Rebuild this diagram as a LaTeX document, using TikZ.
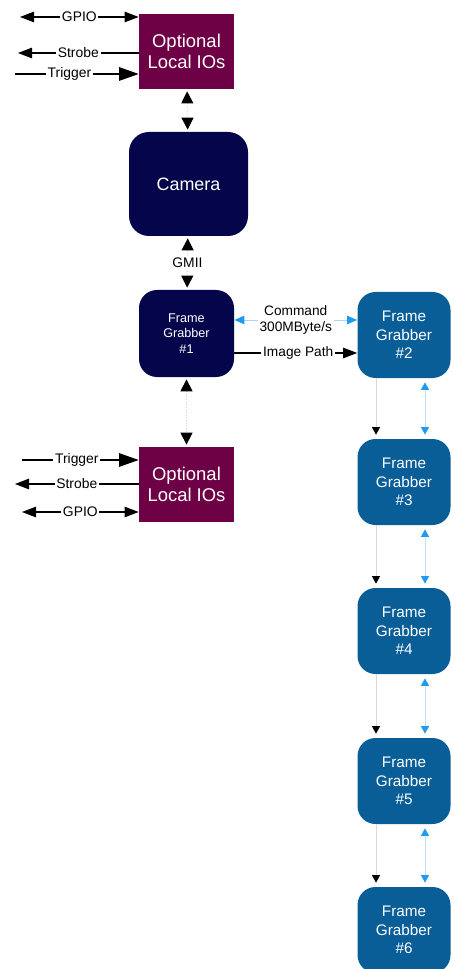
\documentclass[tikz,border=0pt]{standalone}
\usepackage{fontspec}
\setmainfont{Liberation Sans}
\usetikzlibrary{arrows.meta,positioning}
\definecolor{iomaroon}{HTML}{6E0046}
\definecolor{camnavy}{HTML}{05054B}
\definecolor{fgblue}{HTML}{0A5E98}
\definecolor{cmdblue}{HTML}{1E9BEF}
\tikzset{
  iobox/.style={rectangle, fill=iomaroon, text=white, minimum width=1.9cm, minimum height=1.5cm, align=center, font=\fontsize{10.5}{12}\selectfont},
  cambox/.style={rectangle, rounded corners=0.4cm, fill=camnavy, text=white, minimum width=2.38cm, minimum height=2.08cm, font=\fontsize{10.2}{12}\selectfont},
  fgone/.style={rectangle, rounded corners=0.36cm, fill=camnavy, text=white, minimum width=1.9cm, minimum height=1.74cm, align=center, font=\fontsize{7.2}{9}\selectfont},
  fgbox/.style={rectangle, rounded corners=0.36cm, fill=fgblue, text=white, minimum width=1.86cm, minimum height=1.72cm, align=center, font=\fontsize{8.7}{10.4}\selectfont},
  lbl/.style={fill=white, inner sep=1pt, font=\fontsize{7.9}{9}\selectfont},
  midlbl/.style={fill=white, inner sep=1pt, align=center, font=\fontsize{7.8}{9.2}\selectfont},
  io/.style={draw=black, line width=0.6pt, >={Triangle[length=2.8mm,width=2.1mm]}},
  trig/.style={io, >={Triangle[length=3.9mm,width=2.7mm]}},
  link/.style={draw=gray!35, densely dotted, line width=0.5pt, >={Triangle[length=2.4mm,width=2.4mm,color=black]}, shorten <=0.04cm, shorten >=0.04cm},
  cmd/.style={draw=cmdblue!40, line width=0.5pt, >={Triangle[length=2mm,width=1.7mm,color=cmdblue]}},
  chain/.style={draw=gray!30, line width=0.5pt, ->, >={Triangle[length=1.5mm,width=1.6mm,color=black]}, shorten >=0.08cm},
  bluechain/.style={draw=cmdblue!30, line width=0.5pt, <->, >={Triangle[length=1.5mm,width=1.6mm,color=cmdblue]}, shorten <=0.08cm, shorten >=0.08cm}
}
\begin{document}
\begin{tikzpicture}
  \useasboundingbox (0,0) rectangle (9.06,-19.38);
  % Nodes
  \node[iobox] (iotop) at (3.73,-1.03) {Optional\\Local IOs};
  \node[cambox] (cam) at (3.77,-3.68) {Camera};
  \node[fgone] (fg1) at (3.73,-6.67) {Frame\\Grabber\\\#1};
  \node[iobox] (iobot) at (3.73,-9.69) {Optional\\Local IOs};
  \node[fgbox] (fg2) at (8.08,-6.70) {Frame\\Grabber\\\#2};
  \foreach \i/\y in {3/-9.64, 4/-12.62, 5/-15.62, 6/-18.60}
    \node[fgbox] (fg\i) at (8.08,\y) {Frame\\Grabber\\\#\i};

  % Free ends of the local IO lines
  \coordinate (gpioA) at (0.40,-0.34);
  \coordinate (strobeA) at (0.36,-1.06);
  \coordinate (trigA) at (0.30,-1.48);
  \coordinate (trigB) at (0.44,-9.20);
  \coordinate (strobeB) at (0.30,-9.68);
  \coordinate (gpioB) at (0.44,-10.24);

  % Local IOs
  \draw[io,<->] (gpioA) -- (gpioA -| iotop.west) node[lbl,midway] {GPIO};
  \draw[io,->] (strobeA -| iotop.west) -- (strobeA) node[lbl,midway] {Strobe};
  \draw[trig,->] (trigA) -- (trigA -| iotop.west) node[lbl,pos=0.44] {Trigger};
  \draw[trig,->] (trigB) -- (trigB -| iobot.west) node[lbl,pos=0.47] {Trigger};
  \draw[io,->] (strobeB -| iobot.west) -- (strobeB) node[lbl,midway] {Strobe};
  \draw[io,<->] (gpioB) -- (gpioB -| iobot.west) node[lbl,midway] {GPIO};

  % Edges
  \draw[link,<->] (iotop) -- (cam);
  \draw[link,<->] (cam) -- (fg1) node[lbl,midway] {GMII};
  \draw[link,<->] (fg1) -- (iobot);
  \draw[cmd,<->] ([yshift=0.27cm]fg1.east) -- ([yshift=0.27cm]fg1.east -| fg2.west)
    node[midlbl,midway] {Command\\300MByte/s};
  \draw[io,->] ([yshift=-0.39cm]fg1.east) -- ([yshift=-0.39cm]fg1.east -| fg2.west)
    node[midlbl,pos=0.52] {Image Path};
  \foreach \a/\b in {2/3, 3/4, 4/5, 5/6} {
    \draw[chain] ([xshift=-0.56cm]fg\a.south) -- ([xshift=-0.56cm]fg\b.north);
    \draw[bluechain] ([xshift=0.42cm]fg\a.south) -- ([xshift=0.42cm]fg\b.north);
  }
\end{tikzpicture}
\end{document}
